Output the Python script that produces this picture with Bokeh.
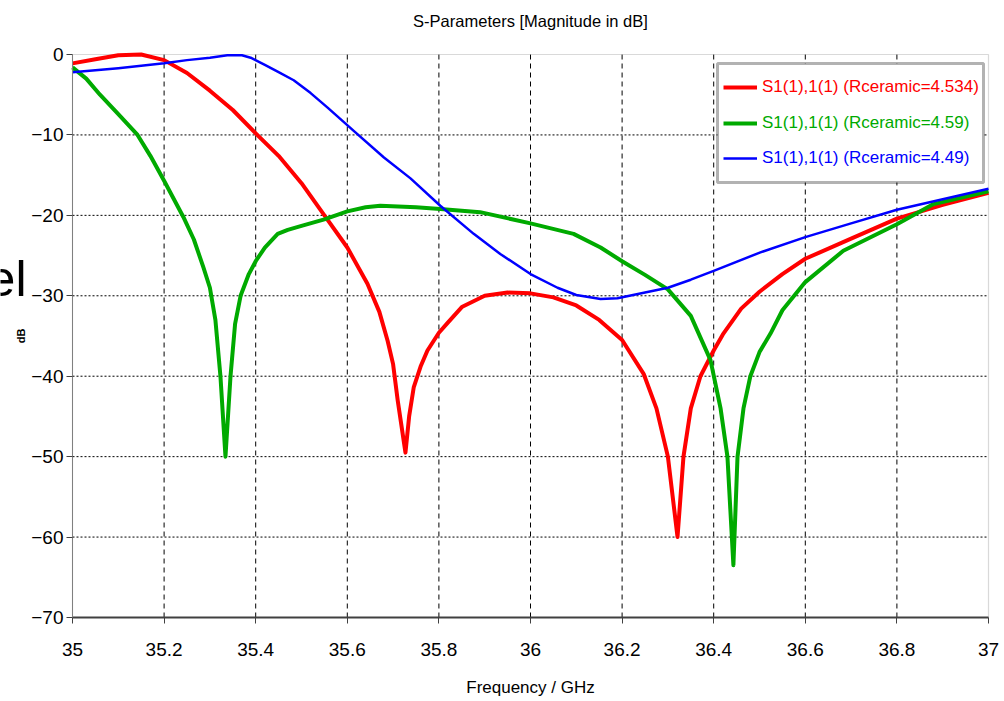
import math
from bokeh.plotting import figure
from bokeh.models import FixedTicker, Legend, LegendItem, BoxAnnotation, Label
from bokeh.embed import file_html
from bokeh.resources import INLINE

# Frequency sweep (GHz) and |S11| in dB for three ceramic permittivities
red_f = [35.00, 35.05, 35.10, 35.15, 35.20, 35.25, 35.30, 35.35, 35.40, 35.45,
         35.50, 35.55, 35.60, 35.644, 35.67, 35.688, 35.70, 35.71, 35.727, 35.735,
         35.745, 35.76, 35.775, 35.80, 35.82, 35.85, 35.90, 35.95, 36.00, 36.05,
         36.10, 36.15, 36.20, 36.247, 36.275, 36.30, 36.321, 36.334, 36.35, 36.371,
         36.40, 36.42, 36.46, 36.50, 36.55, 36.60, 36.70, 36.80, 36.90, 37.00]
red_db = [-1.1, -0.6, -0.1, 0.0, -0.7, -2.3, -4.5, -6.9, -9.8, -12.6,
          -16.0, -20.0, -24.0, -28.5, -32.0, -35.6, -38.5, -43.0, -49.5, -45.0,
          -41.4, -38.8, -36.8, -34.6, -33.3, -31.4, -30.0, -29.6, -29.7, -30.2,
          -31.2, -33.0, -35.5, -39.7, -44.0, -50.0, -60.0, -50.0, -44.0, -40.0,
          -36.8, -34.8, -31.6, -29.5, -27.3, -25.4, -22.9, -20.4, -18.7, -17.2]

green_f = [35.00, 35.03, 35.06, 35.10, 35.142, 35.17, 35.20, 35.242, 35.265, 35.286,
           35.30, 35.312, 35.323, 35.334, 35.345, 35.355, 35.367, 35.385, 35.40, 35.42,
           35.448, 35.47, 35.50, 35.55, 35.60, 35.64, 35.672, 35.75, 35.803, 35.89,
           36.00, 36.094, 36.153, 36.20, 36.25, 36.30, 36.35, 36.393, 36.415, 36.43,
           36.443, 36.452, 36.465, 36.48, 36.50, 36.524, 36.55, 36.60, 36.683, 36.80,
           36.88, 37.00]
green_db = [-1.6, -3.0, -5.0, -7.4, -10.0, -12.6, -15.7, -20.2, -23.0, -26.5,
            -29.0, -33.0, -40.0, -50.0, -40.0, -33.5, -30.0, -27.3, -25.7, -24.0,
            -22.3, -21.8, -21.3, -20.5, -19.5, -19.0, -18.8, -19.0, -19.2, -19.6,
            -21.0, -22.3, -24.0, -25.7, -27.4, -29.2, -32.5, -38.0, -44.0, -50.0,
            -63.5, -50.0, -44.0, -40.0, -37.0, -34.7, -31.8, -28.3, -24.4, -21.1,
            -18.6, -17.0]

blue_f = [35.00, 35.10, 35.20, 35.25, 35.30, 35.338, 35.37, 35.389, 35.42, 35.45,
          35.483, 35.52, 35.557, 35.614, 35.68, 35.738, 35.803, 35.876, 35.934, 36.00,
          36.059, 36.10, 36.153, 36.19, 36.25, 36.30, 36.35, 36.40, 36.502, 36.60,
          36.70, 36.80, 36.90, 37.00]
blue_db = [-2.2, -1.7, -1.1, -0.7, -0.4, -0.1, -0.1, -0.4, -1.3, -2.2,
           -3.2, -4.8, -6.6, -9.5, -12.8, -15.4, -18.8, -22.3, -24.8, -27.3,
           -29.0, -29.9, -30.4, -30.3, -29.6, -29.0, -28.0, -26.9, -24.6, -22.7,
           -21.0, -19.3, -18.0, -16.7]

series_labels = ["S1(1),1(1) (Rceramic=4.534)",
                 "S1(1),1(1) (Rceramic=4.59)",
                 "S1(1),1(1) (Rceramic=4.49)"]
series_colors = ["#ff0000", "#00aa00", "#0000ff"]

x_bounds = (35.0, 37.0)
y_bounds = (-70.0, 0.0)
x_ticks = [35.0, 35.2, 35.4, 35.6, 35.8, 36.0, 36.2, 36.4, 36.6, 36.8, 37.0]
x_tick_labels = ["35", "35.2", "35.4", "35.6", "35.8", "36", "36.2", "36.4", "36.6", "36.8", "37"]
y_ticks = [-70, -60, -50, -40, -30, -20, -10, 0]
y_tick_labels = ["-70", "-60", "-50", "-40", "-30", "-20", "-10", "0"]

title_text = "S-Parameters [Magnitude in dB]"
x_title = "Frequency / GHz"
y_title = "dB"
side_text = "el"

SANS = "Liberation Sans"

# Canvas geometry: the plot region covers the whole canvas; the data box,
# axes and all captions are placed inside it.
W, H = 1004, 701
AX_L, AX_R, AX_T, AX_B = 72, 988, 54, 617     # pixel edges of the data box
px_per_x = (AX_R - AX_L) / (x_bounds[1] - x_bounds[0])
px_per_y = (AX_B - AX_T) / (y_bounds[1] - y_bounds[0])
x_range = (x_bounds[0] - AX_L / px_per_x, x_bounds[1] + (W - AX_R) / px_per_x)
y_range = (y_bounds[0] - (H - AX_B) / px_per_y, y_bounds[1] + AX_T / px_per_y)

p = figure(width=W, height=H, x_range=x_range, y_range=y_range,
           output_backend="svg", toolbar_location=None,
           min_border_left=0, min_border_right=0, min_border_top=0, min_border_bottom=0)
p.background_fill_color = "white"
p.border_fill_color = "white"
p.outline_line_color = None
p.grid.visible = False

# grid on the inner ticks: dashed verticals, dotted horizontals
gx = x_ticks[1:-1]
gy = y_ticks[1:-1]
p.segment(x0=gx, y0=[y_bounds[0]] * len(gx), x1=gx, y1=[y_bounds[1]] * len(gx),
          line_color="black", line_width=1, line_dash="5 4", level="underlay")
p.segment(x0=[x_bounds[0]] * len(gy), y0=gy, x1=[x_bounds[1]] * len(gy), y1=gy,
          line_color="black", line_width=1, line_dash="2 2", level="underlay")

# grey frame round the data box
p.add_layout(BoxAnnotation(left=x_bounds[0], right=x_bounds[1],
                           top=y_bounds[1], bottom=y_bounds[0],
                           fill_alpha=0, line_color="#808080", line_width=1.2,
                           level="underlay"))

xax = p.xaxis[0]
yax = p.yaxis[0]
xax.ticker = FixedTicker(ticks=x_ticks)
xax.major_label_overrides = dict(zip(x_tick_labels, x_tick_labels))
xax.bounds = x_bounds
xax.fixed_location = y_bounds[0]
yax.ticker = FixedTicker(ticks=y_ticks)
yax.major_label_overrides = dict(zip(y_tick_labels, y_tick_labels))
yax.bounds = y_bounds
yax.fixed_location = x_bounds[0]

for ax in (xax, yax):
    ax.major_tick_in = 0
    ax.major_tick_out = 6
    ax.minor_tick_in = 0
    ax.minor_tick_out = 0
    ax.major_tick_line_color = "#404040"
    ax.major_label_text_font = SANS
    ax.major_label_text_font_size = "19px"
    ax.major_label_text_color = "black"

xax.axis_line_color = "#404040"
xax.axis_line_width = 2
xax.major_label_standoff = 19
yax.axis_line_color = "#808080"
yax.axis_line_width = 1
yax.major_label_standoff = 3

renderers = []
for f, db, col, lw in zip((red_f, green_f, blue_f), (red_db, green_db, blue_db),
                          series_colors, (4, 4, 2.5)):
    renderers.append(p.line(f, db, line_color=col, line_width=lw, line_join="round"))

# captions (screen px from the canvas' bottom-left)
p.add_layout(Label(x=(AX_L + AX_R) / 2, y=H - 20, x_units="screen", y_units="screen",
                   text=title_text, text_font=SANS, text_font_size="16.5px",
                   text_align="center", text_baseline="middle", text_color="black"))
p.add_layout(Label(x=(AX_L + AX_R) / 2, y=H - 687, x_units="screen", y_units="screen",
                   text=x_title, text_font=SANS, text_font_size="17px",
                   text_align="center", text_baseline="middle", text_color="black"))
p.add_layout(Label(x=20, y=H - (AX_T + AX_B) / 2, x_units="screen", y_units="screen",
                   text=y_title, text_font=SANS, text_font_size="11px", text_font_style="bold",
                   angle=math.pi / 2, text_align="center", text_baseline="middle",
                   text_color="black"))
p.add_layout(Label(x=26, y=H - 278, x_units="screen", y_units="screen",
                   text=side_text, text_font=SANS, text_font_size="50px",
                   text_align="right", text_baseline="alphabetic", text_color="black"))

# legend frame
p.add_layout(BoxAnnotation(left=717, right=983, top=H - 63, bottom=H - 182,
                           left_units="screen", right_units="screen",
                           top_units="screen", bottom_units="screen",
                           fill_color="white", fill_alpha=1.0,
                           line_color="black", line_width=3))

# one legend per series so each label keeps its own colour
for r, lab, col, row_y in zip(renderers, series_labels, series_colors, (87, 123, 158)):
    leg = Legend(items=[LegendItem(label=lab, renderers=[r])],
                 location=(723, H - row_y - 10),
                 padding=0, margin=0, spacing=0,
                 glyph_width=34, glyph_height=20, label_height=20, label_standoff=5,
                 label_text_color=col, label_text_font=SANS, label_text_font_size="17px",
                 border_line_alpha=0, background_fill_alpha=0)
    p.add_layout(leg)

open("out.html", "w").write(file_html(p, INLINE))
